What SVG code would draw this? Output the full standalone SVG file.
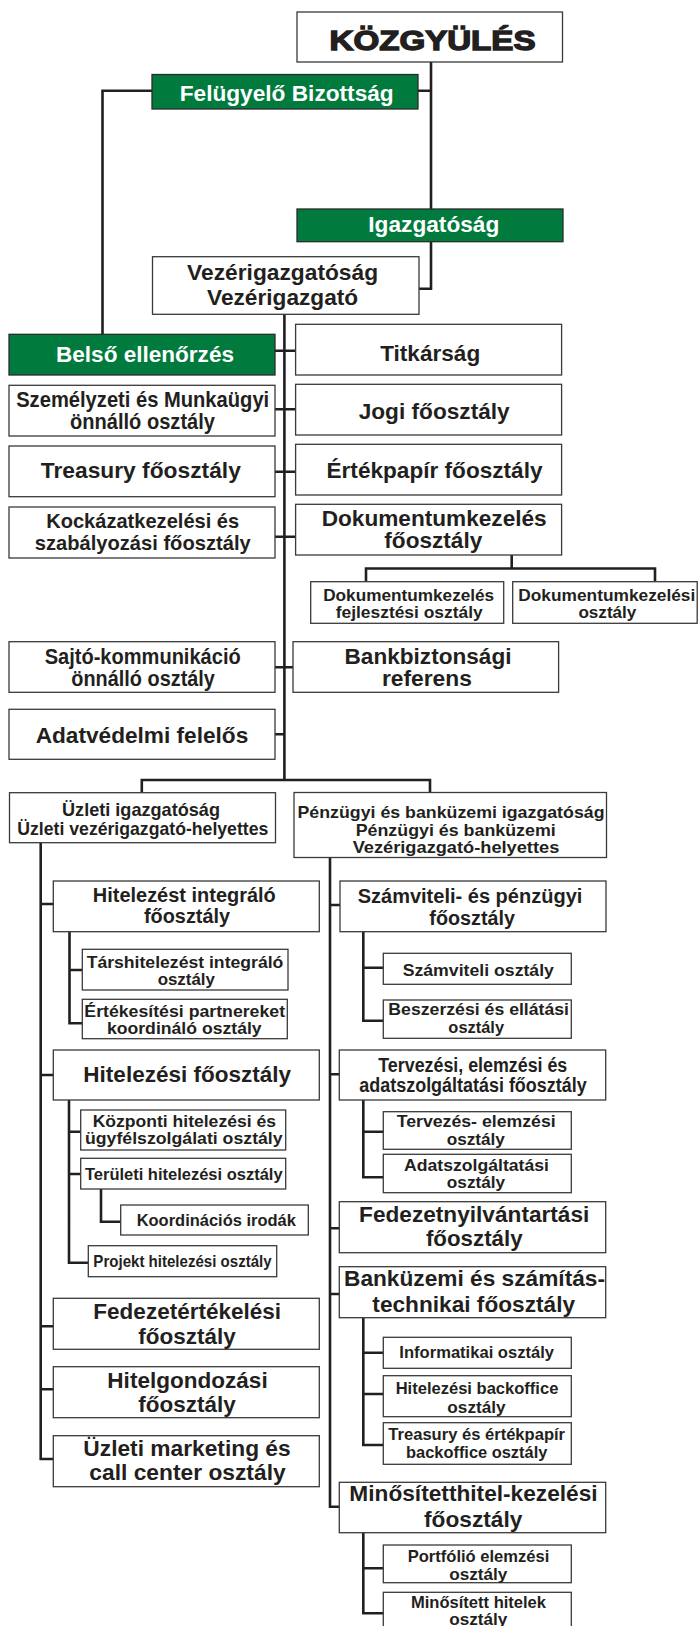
<svg xmlns="http://www.w3.org/2000/svg" width="699" height="1626" viewBox="0 0 699 1626">
<style>
.bx{fill:#fff;stroke:#3a3a3a;stroke-width:1.3}
.gr{fill:#007a3d;stroke:#2b2b2b;stroke-width:1.3}
.ln{fill:none;stroke:#231f20;stroke-width:2.6;stroke-linejoin:miter;stroke-linecap:butt}
text{font-family:"Liberation Sans",Arial,Helvetica,sans-serif;font-weight:bold;fill:#231f20;text-anchor:middle}
.w{fill:#fff}
.b{font-size:22px}
.b2{font-size:20.5px}
.m{font-size:20px}
.u{font-size:19px}
.p{font-size:16.5px}
.s{font-size:17px}
.h{font-size:28px;stroke:#231f20;stroke-width:1.4}
</style>
<rect width="699" height="1626" fill="#fff"/>
<g id="connectors">
<path class="ln" d="M431,62V209M418,90.7H431M152,90.7H102.5V334.3M431,241.7V288.7H419"/>
<path class="ln" d="M284.4,314.3V780M275,350.7H295.6M275,409.3H295.6M275,471.7H295.6M275,536.7H295.6M275,667.3H293M275,734.3H284.4"/>
<path class="ln" d="M141.8,793.3V780H430V792.5"/>
<path class="ln" d="M511.7,555V568.5M366,581.7V568.5H655V581.7"/>
<path class="ln" d="M40.7,843V1459H53.3M40.7,904H53.3M40.7,1075H53.3M40.7,1326.3H53.3M40.7,1389.3H53.3"/>
<path class="ln" d="M69.5,931.7V1023.3H82.3M69.5,970H82.3"/>
<path class="ln" d="M69,1100V1262.7H88.3M69,1131.7H80.7M69,1174H80.7M101,1189V1221.7H120.7"/>
<path class="ln" d="M330,858V1506.7H339.3M330,905H340M330,1074.3H339.3M330,1228.3H339.3M330,1294H339.3"/>
<path class="ln" d="M363.3,931.7V1020.7H383.3M363.3,967.7H383.3"/>
<path class="ln" d="M363.3,1100V1177.3H383.3M363.3,1131.7H383.3"/>
<path class="ln" d="M363.3,1317.7V1445H383.3M363.3,1352.7H383.3M363.3,1394H383.3"/>
<path class="ln" d="M363.3,1532.7V1613.3H383.3M363.3,1568.3H383.3"/>
</g>
<g id="kozgyules"><rect class="bx" x="297" y="12" width="265.5" height="50"/><text class="h" x="432.5" y="49.5" textLength="206" lengthAdjust="spacingAndGlyphs">KÖZGYÜLÉS</text></g>
<g id="felugyelo"><rect class="gr" x="152" y="74.5" width="266" height="34.5"/><text class="b w" x="286.7" y="100.5" textLength="214" lengthAdjust="spacingAndGlyphs">Felügyelő Bizottság</text></g>
<g id="igazgatosag"><rect class="gr" x="297" y="209" width="266" height="32.7"/><text class="b w" x="433.8" y="232.3" textLength="131" lengthAdjust="spacingAndGlyphs">Igazgatóság</text></g>
<g id="vezer"><rect class="bx" x="152.5" y="256.7" width="266.5" height="57.6"/><text class="b" x="282.6" y="280" textLength="191" lengthAdjust="spacingAndGlyphs">Vezérigazgatóság</text><text class="b" x="282.6" y="305" textLength="151" lengthAdjust="spacingAndGlyphs">Vezérigazgató</text></g>
<g id="belso"><rect class="gr" x="9" y="334.3" width="266" height="40.7"/><text class="b w" x="145" y="361.7" textLength="178" lengthAdjust="spacingAndGlyphs">Belső ellenőrzés</text></g>
<g id="titkarsag"><rect class="bx" x="295.6" y="324.3" width="266" height="50.7"/><text class="b" x="430.2" y="360.7" textLength="100" lengthAdjust="spacingAndGlyphs">Titkárság</text></g>
<g id="szemelyzeti"><rect class="bx" x="9" y="385.3" width="266" height="50.7"/><text class="b" x="142.7" y="406.7" textLength="253" lengthAdjust="spacingAndGlyphs">Személyzeti és Munkaügyi</text><text class="b" x="142.5" y="429.3" textLength="145" lengthAdjust="spacingAndGlyphs">önnálló osztály</text></g>
<g id="jogi"><rect class="bx" x="295.6" y="384.3" width="266" height="50.7"/><text class="b" x="434.2" y="419" textLength="151" lengthAdjust="spacingAndGlyphs">Jogi főosztály</text></g>
<g id="treasury"><rect class="bx" x="9" y="446" width="266" height="50.7"/><text class="b" x="140.8" y="478.3" textLength="200" lengthAdjust="spacingAndGlyphs">Treasury főosztály</text></g>
<g id="ertekpapir"><rect class="bx" x="295.6" y="444.3" width="266" height="50.7"/><text class="b" x="434.5" y="478.3" textLength="216" lengthAdjust="spacingAndGlyphs">Értékpapír főosztály</text></g>
<g id="kockazat"><rect class="bx" x="9" y="507" width="266" height="51"/><text class="b2" x="142.7" y="528.3" textLength="193" lengthAdjust="spacingAndGlyphs">Kockázatkezelési és</text><text class="b2" x="142.7" y="550" textLength="216" lengthAdjust="spacingAndGlyphs">szabályozási főosztály</text></g>
<g id="dokumentum"><rect class="bx" x="295.6" y="504.3" width="266" height="50.7"/><text class="b" x="434.2" y="525.7" textLength="225" lengthAdjust="spacingAndGlyphs">Dokumentumkezelés</text><text class="b" x="433.3" y="548.3" textLength="98" lengthAdjust="spacingAndGlyphs">főosztály</text></g>
<g id="dokfejl"><rect class="bx" x="310.7" y="581.7" width="193" height="41.6"/><text class="s" x="408.7" y="600.5" textLength="171" lengthAdjust="spacingAndGlyphs">Dokumentumkezelés</text><text class="s" x="409.2" y="618" textLength="147" lengthAdjust="spacingAndGlyphs">fejlesztési osztály</text></g>
<g id="dokoszt"><rect class="bx" x="512.7" y="581.7" width="184.5" height="41.6"/><text class="s" x="606.8" y="600.5" textLength="177" lengthAdjust="spacingAndGlyphs">Dokumentumkezelési</text><text class="s" x="607.4" y="618" textLength="58" lengthAdjust="spacingAndGlyphs">osztály</text></g>
<g id="sajto"><rect class="bx" x="9" y="641.7" width="266" height="50.6"/><text class="b" x="142.7" y="664" textLength="196" lengthAdjust="spacingAndGlyphs">Sajtó-kommunikáció</text><text class="b" x="143.1" y="686" textLength="143.6" lengthAdjust="spacingAndGlyphs">önnálló osztály</text></g>
<g id="bankbizt"><rect class="bx" x="293" y="641.7" width="265.6" height="50.6"/><text class="b" x="428" y="664" textLength="167" lengthAdjust="spacingAndGlyphs">Bankbiztonsági</text><text class="b" x="426.9" y="686" textLength="90" lengthAdjust="spacingAndGlyphs">referens</text></g>
<g id="adatved"><rect class="bx" x="9" y="709.3" width="266" height="50"/><text class="b" x="142" y="742.7" textLength="212.6" lengthAdjust="spacingAndGlyphs">Adatvédelmi felelős</text></g>
<g id="uzleti"><rect class="bx" x="9.5" y="792.7" width="266" height="50"/><text class="u" x="141" y="816" textLength="158" lengthAdjust="spacingAndGlyphs">Üzleti igazgatóság</text><text class="u" x="142.8" y="835" textLength="251" lengthAdjust="spacingAndGlyphs">Üzleti vezérigazgató-helyettes</text></g>
<g id="penzugyi"><rect class="bx" x="294" y="792.5" width="312.5" height="65"/><text class="p" x="451" y="817.7" textLength="307" lengthAdjust="spacingAndGlyphs">Pénzügyi és banküzemi igazgatóság</text><text class="p" x="455.7" y="835.5" textLength="200" lengthAdjust="spacingAndGlyphs">Pénzügyi és banküzemi</text><text class="p" x="456" y="853" textLength="206.6" lengthAdjust="spacingAndGlyphs">Vezérigazgató-helyettes</text></g>
<g id="hitint"><rect class="bx" x="53.3" y="881" width="266" height="50.7"/><text class="m" x="184.3" y="901.7" textLength="183" lengthAdjust="spacingAndGlyphs">Hitelezést integráló</text><text class="m" x="187" y="923.3" textLength="86" lengthAdjust="spacingAndGlyphs">főosztály</text></g>
<g id="tarshit"><rect class="bx" x="82.3" y="949.3" width="205.7" height="40.7"/><text class="s" x="185" y="967.7" textLength="196.7" lengthAdjust="spacingAndGlyphs">Társhitelezést integráló</text><text class="s" x="186.3" y="985" textLength="57.3" lengthAdjust="spacingAndGlyphs">osztály</text></g>
<g id="ertekesitesi"><rect class="bx" x="82.3" y="999.3" width="205" height="39.4"/><text class="s" x="184.7" y="1016.7" textLength="200.7" lengthAdjust="spacingAndGlyphs">Értékesítési partnereket</text><text class="s" x="184.3" y="1034" textLength="154.7" lengthAdjust="spacingAndGlyphs">koordináló osztály</text></g>
<g id="hitfo"><rect class="bx" x="53.3" y="1050" width="266" height="50"/><text class="b" x="187.2" y="1082.3" textLength="207.7" lengthAdjust="spacingAndGlyphs">Hitelezési főosztály</text></g>
<g id="kozponti"><rect class="bx" x="80.7" y="1110" width="205" height="40"/><text class="s" x="184.3" y="1126.7" textLength="183.3" lengthAdjust="spacingAndGlyphs">Központi hitelezési és</text><text class="s" x="183.8" y="1144.3" textLength="197.7" lengthAdjust="spacingAndGlyphs">ügyfélszolgálati osztály</text></g>
<g id="teruleti"><rect class="bx" x="80.7" y="1158.3" width="205" height="30.7"/><text class="s" x="183.8" y="1180" textLength="197.7" lengthAdjust="spacingAndGlyphs">Területi hitelezési osztály</text></g>
<g id="koord"><rect class="bx" x="120.7" y="1205" width="187.6" height="30"/><text class="s" x="216.3" y="1225.7" textLength="159.3" lengthAdjust="spacingAndGlyphs">Koordinációs irodák</text></g>
<g id="projekt"><rect class="bx" x="88.3" y="1245.7" width="188.4" height="31"/><text class="s" x="182.5" y="1267.3" textLength="178.3" lengthAdjust="spacingAndGlyphs">Projekt hitelezési osztály</text></g>
<g id="fedezetert"><rect class="bx" x="53.3" y="1298.3" width="266" height="51"/><text class="b" x="187.2" y="1318.5" textLength="187.7" lengthAdjust="spacingAndGlyphs">Fedezetértékelési</text><text class="b" x="187" y="1343.5" textLength="97.3" lengthAdjust="spacingAndGlyphs">főosztály</text></g>
<g id="hitelgond"><rect class="bx" x="53.3" y="1366.7" width="266" height="51"/><text class="b" x="187.5" y="1387.7" textLength="160.3" lengthAdjust="spacingAndGlyphs">Hitelgondozási</text><text class="b" x="187" y="1411.7" textLength="97.3" lengthAdjust="spacingAndGlyphs">főosztály</text></g>
<g id="uzletimark"><rect class="bx" x="53.3" y="1435.7" width="266" height="51"/><text class="b" x="187" y="1455.7" textLength="207.3" lengthAdjust="spacingAndGlyphs">Üzleti marketing és</text><text class="b" x="187.5" y="1480" textLength="196.3" lengthAdjust="spacingAndGlyphs">call center osztály</text></g>
<g id="szamvfo"><rect class="bx" x="340" y="881" width="266" height="50.7"/><text class="m" x="470" y="903.3" textLength="224.7" lengthAdjust="spacingAndGlyphs">Számviteli- és pénzügyi</text><text class="m" x="472.2" y="925" textLength="85.7" lengthAdjust="spacingAndGlyphs">főosztály</text></g>
<g id="szamvoszt"><rect class="bx" x="383.3" y="953.3" width="188" height="31"/><text class="s" x="478.3" y="975.7" textLength="151.3" lengthAdjust="spacingAndGlyphs">Számviteli osztály</text></g>
<g id="beszerzesi"><rect class="bx" x="383.3" y="1000" width="188" height="38.3"/><text class="s" x="478.7" y="1015" textLength="180.7" lengthAdjust="spacingAndGlyphs">Beszerzési és ellátási</text><text class="s" x="476.2" y="1032.7" textLength="55.7" lengthAdjust="spacingAndGlyphs">osztály</text></g>
<g id="tervezesfo"><rect class="bx" x="339.3" y="1050" width="266.4" height="50"/><text class="m" x="472.8" y="1071.7" textLength="189" lengthAdjust="spacingAndGlyphs">Tervezési, elemzési és</text><text class="m" x="473" y="1091.7" textLength="227.3" lengthAdjust="spacingAndGlyphs">adatszolgáltatási főosztály</text></g>
<g id="tervezesoszt"><rect class="bx" x="383.3" y="1111.7" width="188" height="37.6"/><text class="s" x="476.2" y="1127.3" textLength="159" lengthAdjust="spacingAndGlyphs">Tervezés- elemzési</text><text class="s" x="475.8" y="1145" textLength="58.3" lengthAdjust="spacingAndGlyphs">osztály</text></g>
<g id="adatszolg"><rect class="bx" x="383.3" y="1154.3" width="188" height="38.4"/><text class="s" x="476.5" y="1171" textLength="145" lengthAdjust="spacingAndGlyphs">Adatszolgáltatási</text><text class="s" x="476" y="1188.3" textLength="58.3" lengthAdjust="spacingAndGlyphs">osztály</text></g>
<g id="fedezetnyilv"><rect class="bx" x="339.3" y="1201.7" width="266.4" height="51"/><text class="b" x="474.2" y="1221.7" textLength="230.3" lengthAdjust="spacingAndGlyphs">Fedezetnyilvántartási</text><text class="b" x="474.3" y="1246" textLength="96.7" lengthAdjust="spacingAndGlyphs">főosztály</text></g>
<g id="bankuzemi"><rect class="bx" x="339.3" y="1266.7" width="266.4" height="51"/><text class="b" x="474.5" y="1285.7" textLength="261" lengthAdjust="spacingAndGlyphs">Banküzemi és számítás-</text><text class="b" x="473.7" y="1311.7" textLength="202.7" lengthAdjust="spacingAndGlyphs">technikai főosztály</text></g>
<g id="informatikai"><rect class="bx" x="383.3" y="1337.3" width="188" height="31"/><text class="s" x="476.7" y="1358.3" textLength="154.7" lengthAdjust="spacingAndGlyphs">Informatikai osztály</text></g>
<g id="hitbo"><rect class="bx" x="383.3" y="1375.7" width="188" height="41"/><text class="s" x="477" y="1394.3" textLength="162.7" lengthAdjust="spacingAndGlyphs">Hitelezési backoffice</text><text class="s" x="476.5" y="1412.7" textLength="58.3" lengthAdjust="spacingAndGlyphs">osztály</text></g>
<g id="treasurybo"><rect class="bx" x="383.3" y="1422.7" width="188" height="41.6"/><text class="s" x="476.7" y="1440" textLength="176.7" lengthAdjust="spacingAndGlyphs">Treasury és értékpapír</text><text class="s" x="476.7" y="1458.3" textLength="141.3" lengthAdjust="spacingAndGlyphs">backoffice osztály</text></g>
<g id="minositettfo"><rect class="bx" x="339.3" y="1482.3" width="266.4" height="50.4"/><text class="b" x="473.5" y="1500.5" textLength="248.3" lengthAdjust="spacingAndGlyphs">Minősítetthitel-kezelési</text><text class="b" x="473.2" y="1526.7" textLength="98.3" lengthAdjust="spacingAndGlyphs">főosztály</text></g>
<g id="portfolio"><rect class="bx" x="383.3" y="1545" width="188" height="37.7"/><text class="s" x="478.5" y="1561.7" textLength="141.7" lengthAdjust="spacingAndGlyphs">Portfólió elemzési</text><text class="s" x="478.3" y="1580" textLength="58.3" lengthAdjust="spacingAndGlyphs">osztály</text></g>
<g id="minositettoszt"><rect class="bx" x="383.3" y="1592.3" width="188" height="40"/><text class="s" x="478.5" y="1607.7" textLength="135" lengthAdjust="spacingAndGlyphs">Minősített hitelek</text><text class="s" x="478.3" y="1625" textLength="58.3" lengthAdjust="spacingAndGlyphs">osztály</text></g>
</svg>
